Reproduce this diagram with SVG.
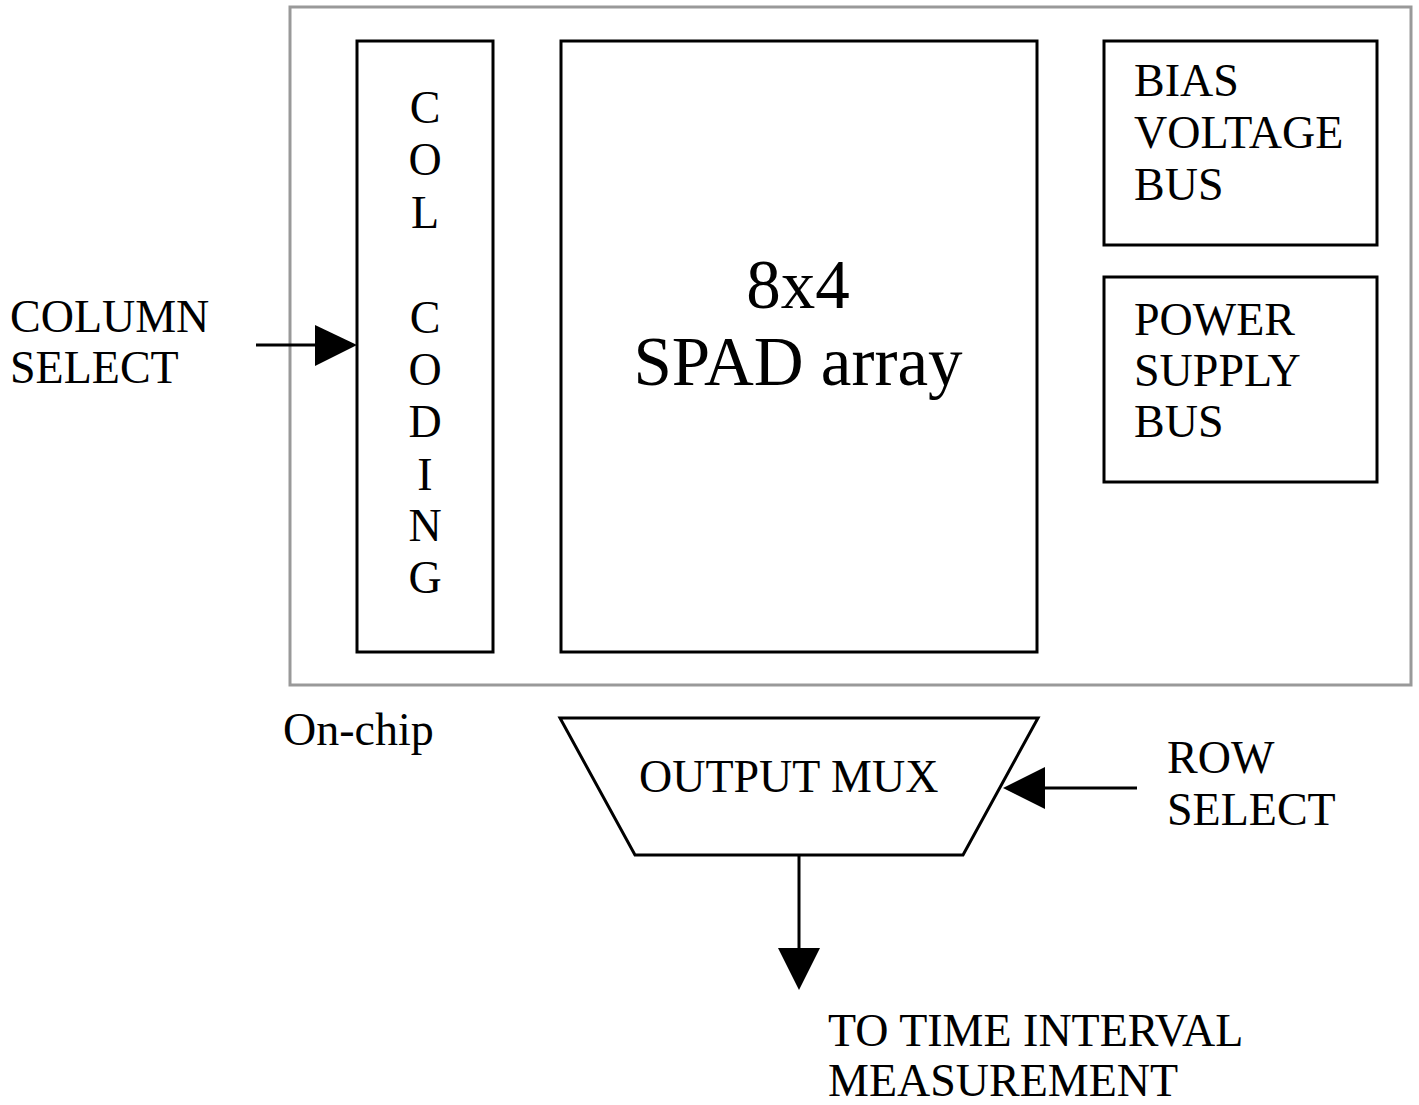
<svg xmlns="http://www.w3.org/2000/svg" width="1419" height="1105" viewBox="0 0 1419 1105">
  <style>
    text { font-family: "Liberation Serif", "Times New Roman", serif; font-size: 46px; fill: #000; }
    text.big { font-size: 69px; }
    .box { fill: #fff; stroke: #000; stroke-width: 3; }
    .chip { fill: #fff; stroke: #999; stroke-width: 3; }
    .wire { stroke: #000; stroke-width: 3; fill: none; }
    .head { fill: #000; }
  </style>
  <rect width="1419" height="1105" fill="#fff"/>

  <g id="chip">
    <rect class="chip" x="290" y="7" width="1121" height="678"/>
    <text x="283" y="745">On-chip</text>
  </g>

  <g id="col-coding">
    <rect class="box" x="357" y="41" width="136" height="611"/>
    <g text-anchor="middle">
      <text x="425" y="123">C</text>
      <text x="425" y="175">O</text>
      <text x="425" y="228">L</text>
      <text x="425" y="333">C</text>
      <text x="425" y="385">O</text>
      <text x="425" y="437">D</text>
      <text x="425" y="490">I</text>
      <text x="425" y="541">N</text>
      <text x="425" y="593">G</text>
    </g>
  </g>

  <g id="spad-array">
    <rect class="box" x="561" y="41" width="476" height="611"/>
    <text class="big" x="798" y="308" text-anchor="middle">8x4</text>
    <text class="big" x="798" y="385" text-anchor="middle">SPAD array</text>
  </g>

  <g id="bias-bus">
    <rect class="box" x="1104" y="41" width="273" height="204"/>
    <text x="1134" y="96">BIAS</text>
    <text x="1134" y="148">VOLTAGE</text>
    <text x="1134" y="200">BUS</text>
  </g>

  <g id="power-bus">
    <rect class="box" x="1104" y="277" width="273" height="205"/>
    <text x="1134" y="335">POWER</text>
    <text x="1134" y="386">SUPPLY</text>
    <text x="1134" y="437">BUS</text>
  </g>

  <g id="output-mux">
    <polygon class="box" points="560,718 1038,718 963,855 635,855"/>
    <text x="639" y="792">OUTPUT MUX</text>
  </g>

  <g id="column-select">
    <text x="10" y="332">COLUMN</text>
    <text x="10" y="383">SELECT</text>
  </g>

  <g id="row-select">
    <text x="1167" y="773">ROW</text>
    <text x="1167" y="825">SELECT</text>
  </g>

  <g id="time-interval">
    <text x="828" y="1046">TO TIME INTERVAL</text>
    <text x="828" y="1096">MEASUREMENT</text>
  </g>

  <g id="connectors">
    <line class="wire" x1="256" y1="345" x2="318" y2="345"/>
    <polygon class="head" points="315,325 357,345 315,366"/>
    <line class="wire" x1="1137" y1="788" x2="1042" y2="788"/>
    <polygon class="head" points="1045,767 1003,788 1045,809"/>
    <line class="wire" x1="799" y1="855" x2="799" y2="951"/>
    <polygon class="head" points="778,948 820,948 799,990"/>
  </g>
</svg>
